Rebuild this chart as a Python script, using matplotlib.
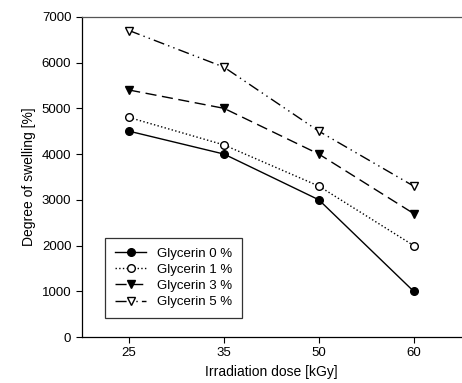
import matplotlib
matplotlib.use('Agg')
import matplotlib.pyplot as plt

doses = ['25', '35', '50', '60']
glycerin_0 = [4500, 4000, 3000, 1000]
glycerin_1 = [4800, 4200, 3300, 2000]
glycerin_3 = [5400, 5000, 4000, 2700]
glycerin_5 = [6700, 5900, 4500, 3300]
labels = ['Glycerin 0 %', 'Glycerin 1 %', 'Glycerin 3 %', 'Glycerin 5 %']

plt.rcParams['font.family'] = ['Liberation Sans', 'DejaVu Sans']
plt.rcParams['font.size'] = 9.5

fig = plt.figure(figsize=(4.62, 3.83), dpi=100)
ax = fig.add_axes([0.177, 0.12, 0.821, 0.836])

x = list(range(len(doses)))
ms = 5.5
ax.plot(x, glycerin_0, '-', color='black', lw=1, marker='o', ms=ms,
        mfc='black', mec='black', label=labels[0])
ax.plot(x, glycerin_1, ':', color='black', lw=1, marker='o', ms=ms,
        mfc='white', mec='black', label=labels[1])
ax.plot(x, glycerin_3, color='black', lw=1, dashes=(8, 4), marker='v', ms=ms,
        mfc='black', mec='black', label=labels[2])
ax.plot(x, glycerin_5, color='black', lw=1, dashes=(8, 3, 1, 3, 1, 3), marker='v',
        ms=ms, mfc='white', mec='black', label=labels[3])

ax.set_xlim(-0.5, 3.5)
ax.set_ylim(0, 7000)
ax.set_xticks(x)
ax.set_xticklabels(doses)
ax.set_yticks(range(0, 7001, 1000))
ax.tick_params(direction='out', length=4, width=0.8, colors='black', labelsize=9.5)
ax.set_xlabel('Irradiation dose [kGy]', fontsize=10)
ax.set_ylabel('Degree of swelling [%]', fontsize=10)
for s in ax.spines.values():
    s.set_linewidth(0.9)
ax.spines['top'].set_color('#555555')
ax.spines['right'].set_visible(False)

leg = ax.legend(loc='lower left', bbox_to_anchor=(0.061, 0.059), borderaxespad=0,
                frameon=True, fancybox=False, edgecolor='black', handlelength=2.4,
                labelspacing=0.3, borderpad=0.75, fontsize=9.5)
leg.get_frame().set_linewidth(0.9)

fig.savefig('out.png', dpi=100)
